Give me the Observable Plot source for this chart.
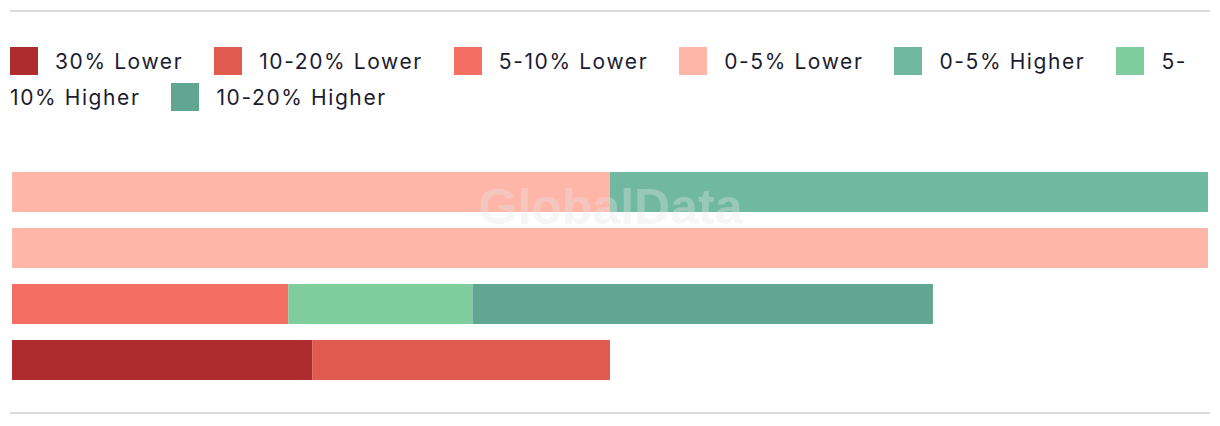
<!DOCTYPE html>
<html>
<head>
<meta charset="utf-8">
<script src="https://cdn.jsdelivr.net/npm/d3@7"></script>
<script src="https://cdn.jsdelivr.net/npm/@observablehq/plot@0.6"></script>
<style>
  html, body { margin: 0; padding: 0; background: #fff; }
  body { width: 1220px; height: 426px; overflow: hidden; font-family: Inter, "Noto Sans", sans-serif; }
  .rule { margin-left: 10px; width: 1200px; height: 2px; background: #dcdcdc; }
  #top { margin-top: 10px; }
  #legend { box-sizing: border-box; height: 104px; padding: 32px 0 0 10px; width: 1210px; font-size: 21px; line-height: 36px; color: #1c1c30; letter-spacing: 1.6px; }
  .sw { display: inline-block; width: 28px; height: 28px; vertical-align: middle; margin-right: 17px; position: relative; top: -2px; }
  .lbl { margin-right: 31px; }
  .lbl.mid { margin-right: 0; }
  #chart { position: relative; height: 296px; }
  #chart svg { display: block; }
</style>
</head>
<body>
<div class="rule" id="top"></div>
<div id="legend"></div>
<div id="chart"></div>
<div class="rule" id="bottom"></div>
<script>
// Categories (rows, top to bottom) — rows are unlabeled in the reference
const rows = ["Row 1", "Row 2", "Row 3", "Row 4"];
// Series (legend order) and colours
const series = ["30% Lower", "10-20% Lower", "5-10% Lower", "0-5% Lower", "0-5% Higher", "5-10% Higher", "10-20% Higher"];
const colors = ["#ae2b2e", "#e05a4f", "#f46e63", "#feb6a8", "#70b8a0", "#7fcd9d", "#60a690"];
// Share values (%) per series, one per row
const v30Lower   = [0, 0, 0, 25.1];
const v1020Lower = [0, 0, 0, 24.9];
const v510Lower  = [0, 0, 23.1, 0];
const v05Lower   = [50, 100, 0, 0];
const v05Higher  = [50, 0, 0, 0];
const v510Higher = [0, 0, 15.4, 0];
const v1020Higher= [0, 0, 38.5, 0];

const seriesValues = [v30Lower, v1020Lower, v510Lower, v05Lower, v05Higher, v510Higher, v1020Higher];
const data = [];
series.forEach((s, i) => rows.forEach((r, j) => {
  if (seriesValues[i][j] > 0) data.push({row: r, series: s, value: seriesValues[i][j]});
}));

// Legend (HTML, wraps like the reference: a label may break after its hyphen)
const legend = document.getElementById("legend");
series.forEach((s, i) => {
  const sw = document.createElement("span");
  sw.className = "sw";
  sw.style.background = colors[i];
  legend.appendChild(sw);
  // allow a break only after the first hyphen that follows a single-number prefix (as "5-")
  const m = s.match(/^(\d-)(.*)$/);
  const pieces = m ? [m[1], m[2]] : [s];
  pieces.forEach((p, k) => {
    const t = document.createElement("span");
    t.className = "lbl" + (k < pieces.length - 1 ? " mid" : "");
    t.style.whiteSpace = "nowrap";
    t.textContent = p;
    legend.appendChild(t);
    legend.appendChild(document.createElement("wbr"));
  });
});

const chart = Plot.plot({
  width: 1220,
  height: 296,
  marginLeft: 12,
  marginRight: 12,
  marginTop: 40,
  marginBottom: 16,
  x: {domain: [0, 100], axis: null},
  y: {domain: rows, axis: null, padding: 16 / 56},
  color: {domain: series, range: colors},
  marks: [
    Plot.barX(data, Plot.stackX({x: "value", y: "row", fill: "series", order: series})),
    Plot.text(["GlobalData"], {frameAnchor: "middle", dy: -69, text: d => d, fontSize: 50, fontWeight: "bold", fill: "#e6e6e6", fillOpacity: 0.35, fontFamily: "Arial, Liberation Sans, sans-serif"})
  ]
});
document.getElementById("chart").appendChild(chart);
</script>
</body>
</html>
